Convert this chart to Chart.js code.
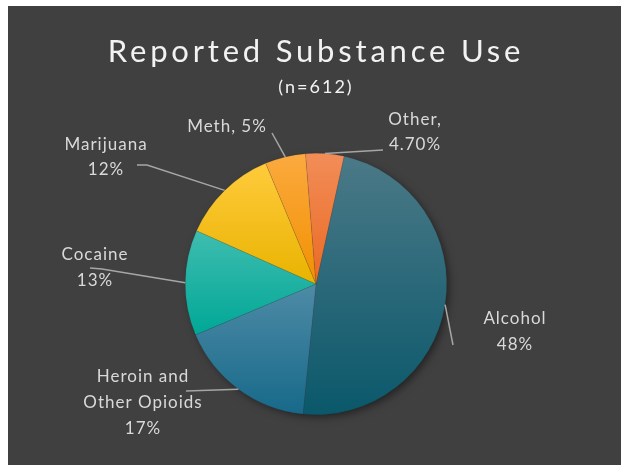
<!DOCTYPE html>
<html lang="en">
<head>
  <meta charset="UTF-8">
  <title>Reported Substance Use</title>
  <script src="https://cdn.jsdelivr.net/npm/chart.js"></script>
  <style>
    body { margin: 0; background: #fff; }
    canvas { display: block; }
  </style>
</head>
<body>
  <canvas id="useChart" width="621" height="465"></canvas>
  <script>
    const substances = ['Alcohol', 'Heroin and Other Opioids', 'Cocaine', 'Marijuana', 'Meth', 'Other'];
    const shares = [48, 17, 13, 12, 5, 4.7];
    const shareLabels = ['48%', '17%', '13%', '12%', '5%', '4.70%'];
    const respondents = 612;

    // top / bottom colour of each slice's gradient
    const topColors = ['#4b7987', '#4e8ba6', '#3fbdb0', '#ffcb3c', '#fbaa40', '#f28d58'];
    const bottomColors = ['#0a586b', '#17698a', '#00a796', '#e9b300', '#f29000', '#ea6a24'];

    const startDeg = 12.4;

    function arcHits(a0, a1, t) {
      for (let k = -2; k <= 2; k++) {
        const v = t + k * 2 * Math.PI;
        if (v >= a0 && v <= a1) return true;
      }
      return false;
    }

    function sliceGradient(c) {
      const i = c.dataIndex;
      const area = c.chart.chartArea;
      if (!area) return bottomColors[i];
      const cx = (area.left + area.right) / 2;
      const cy = (area.top + area.bottom) / 2;
      const r = Math.min(area.width, area.height) / 2;
      const total = shares.reduce((s, v) => s + v, 0);
      let a0 = startDeg * Math.PI / 180 - Math.PI / 2;
      for (let j = 0; j < i; j++) a0 += shares[j] / total * 2 * Math.PI;
      const a1 = a0 + shares[i] / total * 2 * Math.PI;
      let ys = [cy, cy + r * Math.sin(a0), cy + r * Math.sin(a1)];
      if (arcHits(a0, a1, -Math.PI / 2)) ys.push(cy - r);
      if (arcHits(a0, a1, Math.PI / 2)) ys.push(cy + r);
      const g = c.chart.ctx.createLinearGradient(0, Math.min(...ys), 0, Math.max(...ys));
      g.addColorStop(0, topColors[i]);
      g.addColorStop(1, bottomColors[i]);
      return g;
    }

    // label text lines, leader line bends and text centres per slice
    const labelLayout = [
      { lines: [substances[0], shareLabels[0]], x: 515, ys: [319, 345], bend: [[453, 345]] },
      { lines: ['Heroin and', 'Other Opioids', shareLabels[1]], x: 143, ys: [377, 403, 429], bend: [[186, 391]] },
      { lines: [substances[2], shareLabels[2]], x: 95, ys: [255, 281], bend: [[102, 269], [90, 268]] },
      { lines: [substances[3], shareLabels[3]], x: 106, ys: [145, 170], bend: [[147, 165], [137, 165]] },
      { lines: [substances[4] + ', ' + shareLabels[4]], x: 227, ys: [127], bend: [[272, 133]] },
      { lines: [substances[5] + ',', shareLabels[5]], x: 415, ys: [120, 145], bend: [[383, 150]] }
    ];

    const panel = {
      id: 'panel',
      beforeDraw(chart) {
        const ctx = chart.ctx;
        ctx.save();
        ctx.fillStyle = '#404040';
        ctx.fillRect(8, 6, chart.width - 8, chart.height - 6);

        ctx.fillStyle = '#f2f2f2';
        ctx.textAlign = 'center';
        ctx.textBaseline = 'alphabetic';
        ctx.font = '400 31px Lato';
        ctx.letterSpacing = '3.8px';
        ctx.fillText('Reported Substance Use', 316, 62);
        ctx.font = '400 18px Lato';
        ctx.letterSpacing = '2px';
        ctx.fillText('(n=' + respondents + ')', 316, 93);
        ctx.restore();
      },
      beforeDatasetsDraw(chart) {
        const arc = chart.getDatasetMeta(0).data[0];
        if (!arc) return;
        const ctx = chart.ctx;
        ctx.save();
        ctx.shadowColor = 'rgba(0,0,0,0.5)';
        ctx.shadowBlur = 9;
        ctx.shadowOffsetX = 3;
        ctx.shadowOffsetY = 3;
        ctx.fillStyle = '#404040';
        ctx.beginPath();
        ctx.arc(arc.x, arc.y, arc.outerRadius - 1, 0, 2 * Math.PI);
        ctx.fill();
        ctx.restore();
      },
      afterDatasetsDraw(chart) {
        const ctx = chart.ctx;
        const meta = chart.getDatasetMeta(0);
        ctx.save();
        meta.data.forEach((arc, i) => {
          const p = arc.getProps(['x', 'y', 'startAngle', 'endAngle', 'outerRadius'], true);
          const mid = (p.startAngle + p.endAngle) / 2;
          const lay = labelLayout[i];
          ctx.strokeStyle = '#a6a6a6';
          ctx.lineWidth = 1.5;
          ctx.beginPath();
          ctx.moveTo(p.x + p.outerRadius * Math.cos(mid), p.y + p.outerRadius * Math.sin(mid));
          lay.bend.forEach(b => ctx.lineTo(b[0], b[1]));
          ctx.stroke();

          ctx.fillStyle = '#d9d9d9';
          ctx.font = '17px Lato';
          ctx.letterSpacing = '1px';
          ctx.textAlign = 'center';
          ctx.textBaseline = 'middle';
          lay.lines.forEach((t, k) => ctx.fillText(t, lay.x, lay.ys[k]));
        });
        ctx.restore();
      }
    };

    new Chart(document.getElementById('useChart'), {
      type: 'pie',
      data: {
        labels: substances,
        datasets: [{
          data: shares,
          backgroundColor: sliceGradient,
          borderColor: 'rgba(40,40,40,0.25)',
          borderWidth: 0.5
        }]
      },
      options: {
        responsive: false,
        animation: false,
        devicePixelRatio: 1,
        rotation: startDeg,
        layout: { padding: { left: 185, right: 174, top: 153, bottom: 50 } },
        plugins: {
          legend: { display: false },
          title: { display: false },
          tooltip: { enabled: false }
        }
      },
      plugins: [panel]
    });
  </script>
</body>
</html>
